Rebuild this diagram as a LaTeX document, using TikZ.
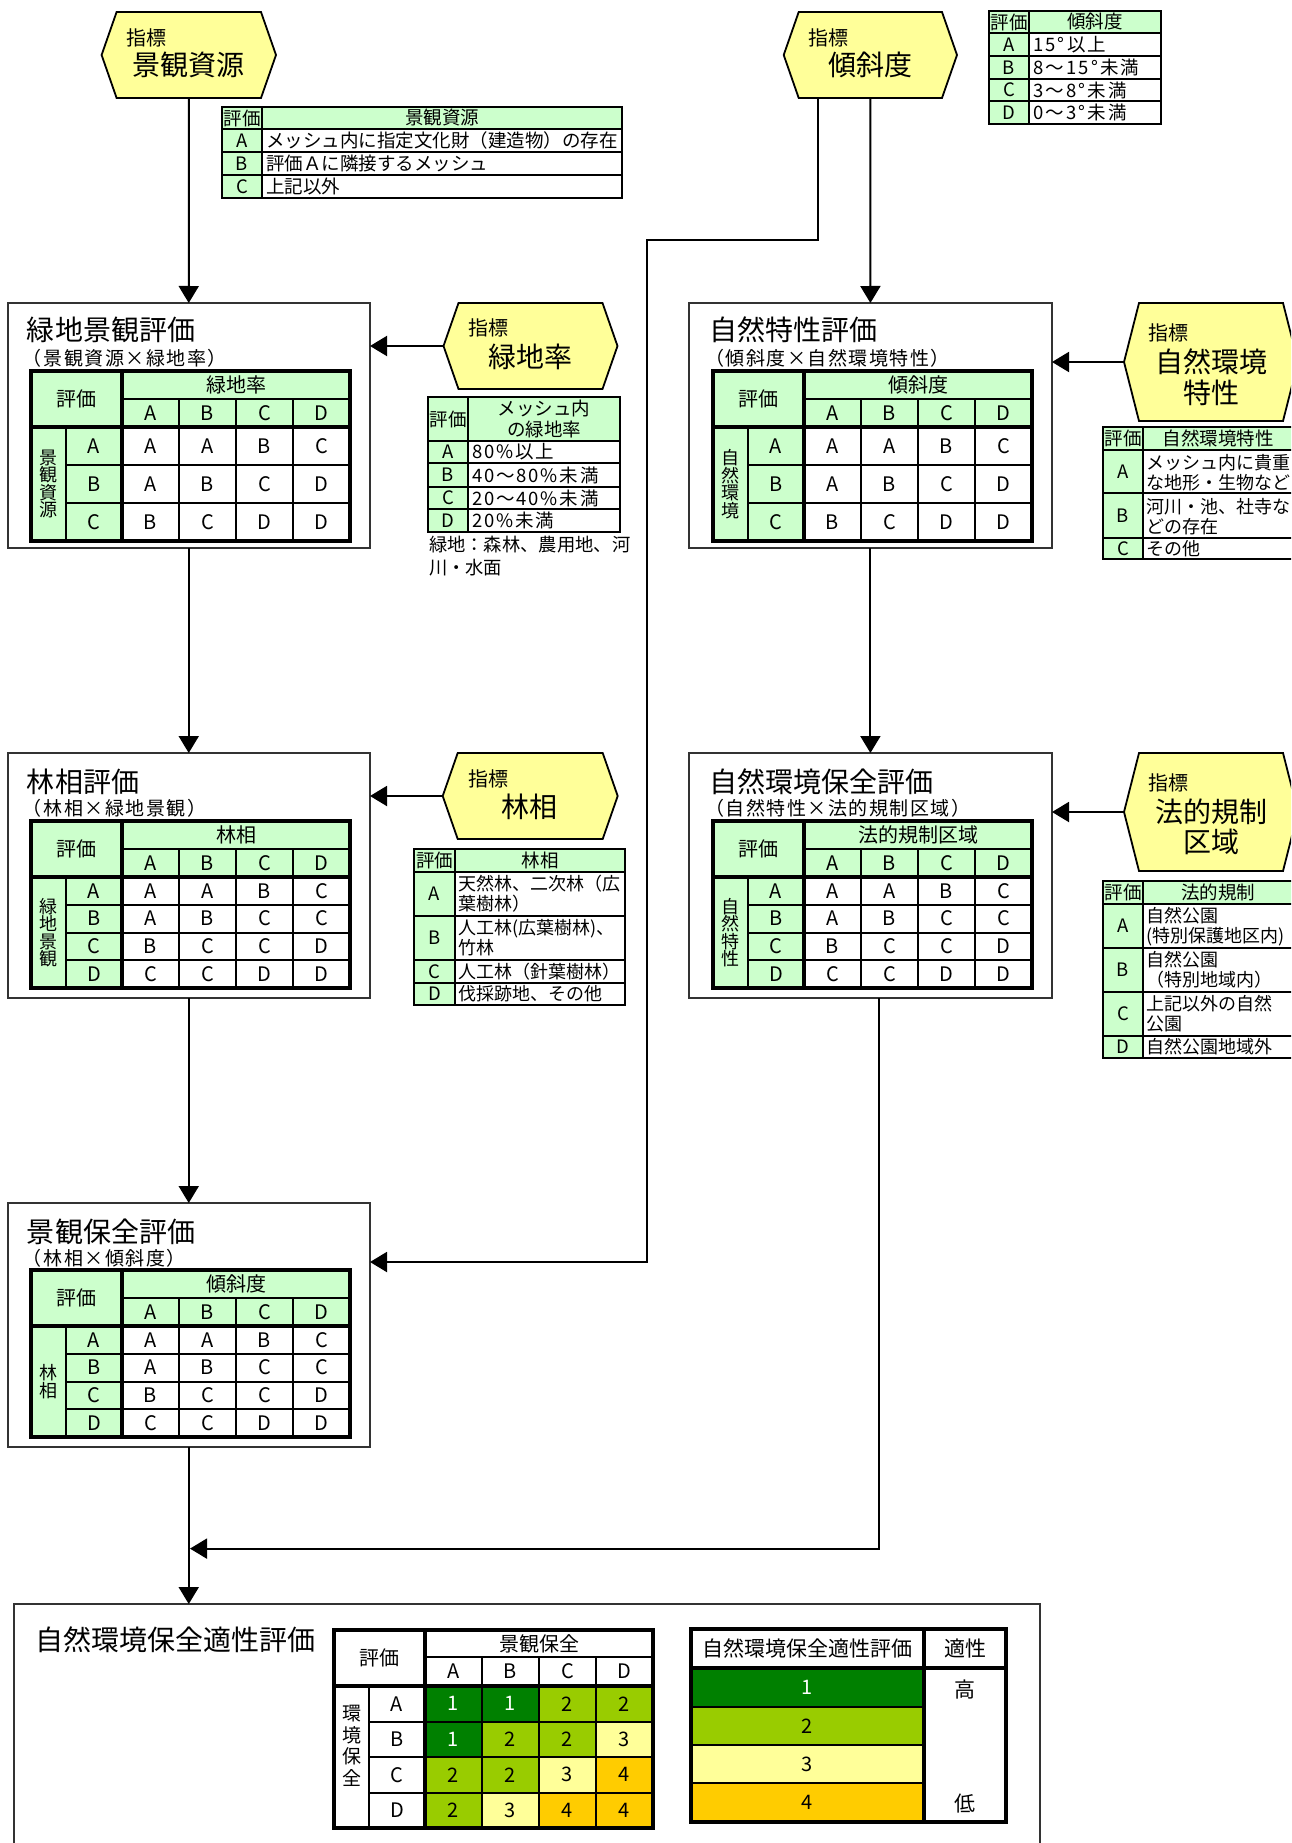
\documentclass[tikz,border=0pt]{standalone}
\usepackage{fontspec}
\setmainfont{Noto Sans CJK JP}
\usetikzlibrary{arrows.meta,calc}
\definecolor{hdrg}{HTML}{CCFFCC}
\definecolor{hexy}{HTML}{FFFF99}
\definecolor{lv1}{HTML}{008000}
\definecolor{lv2}{HTML}{99CC00}
\definecolor{lv3}{HTML}{FFFF99}
\definecolor{lv4}{HTML}{FFCC00}

\newcommand{\EvMat}[9]{%
  \pgfmathsetmacro{\mya}{#3+28}%
  \pgfmathsetmacro{\myd}{#3+56}%
  \pgfmathsetmacro{\mye}{#3+56+#4*#5}%
  \pgfmathtruncatemacro{\mnm}{#5-1}%
  \fill[hdr] (#2,#3) rectangle ({#2+319},\myd);
  \fill[hdr] (#2,\myd) rectangle ({#2+91},\mye);
  \draw[tthin] ({#2+91},\mya) -- ({#2+319},\mya);
  \foreach \k in {148,205,262} {\draw[tthin] ({#2+\k},\mya) -- ({#2+\k},\mye);}
  \draw[tthin] ({#2+35},\myd) -- ({#2+35},\mye);
  \foreach \k in {1,...,\mnm} {\draw[tthin] ({#2+35},{\myd+#4*\k}) -- ({#2+319},{\myd+#4*\k});}
  \draw[tthick] (#2,\myd) -- ({#2+319},\myd);
  \draw[tthick] ({#2+91},#3) -- ({#2+91},\mye);
  \draw[tborder] (#2,#3) rectangle ({#2+319},\mye);
  \node[fcell] (#1-hd) at ({#2+45.5},\mya) {評価};
  \node[fcell] (#1-ch) at ({#2+205},{#3+14}) {#6};
  \foreach \L [count=\i] in {A,B,C,D} {\node[fcell] (#1-c\i) at ({#2+91+28.5+57*(\i-1)},{#3+42}) {\L};}
  \foreach \L [count=\j] in {#9} {\node[fcell] (#1-r\j) at ({#2+63},{\myd+#4*(\j-0.5)}) {\L};}
  \node[fvert] (#1-vl) at ({#2+17.5},{(\myd+\mye)/2}) {#7};
  \foreach \row [count=\j] in {#8} {\foreach \v [count=\i] in \row {\node[fcell] (#1-\j-\i) at ({#2+91+28.5+57*(\i-1)},{\myd+#4*(\j-0.5)}) {\v};}}
}

\newcommand{\HexNode}[5]{%
  \node[hexshape, minimum width=#4pt, minimum height=#5pt] (#1) at (#2,#3) {};
  \draw[hexline] (#1.west) -- ([xshift=15pt]#1.north west) -- ([xshift=-15pt]#1.north east) -- (#1.east) -- ([xshift=-15pt]#1.south east) -- ([xshift=15pt]#1.south west) -- cycle;
}

\begin{document}
\begin{tikzpicture}[x=1pt,y=-1pt,
  every node/.style={inner sep=0pt, outer sep=0pt},
  evbox/.style={rectangle, draw=black!80, line width=2pt, fill=white},
  hexshape/.style={rectangle, draw=none},
  hexline/.style={draw=black, line width=1.8pt, fill=hexy, line join=miter},
  arr/.style={line width=2pt, -{Triangle[length=17pt,width=20pt]}},
  tthin/.style={line width=2pt},
  tthick/.style={line width=3.2pt},
  tborder/.style={line width=3.6pt},
  ithin/.style={line width=1.8pt},
  iborder/.style={line width=2.6pt},
  hdr/.style={fill=hdrg},
  ftitle/.style={font=\fontsize{28}{30}\selectfont, anchor=west},
  fsub/.style={font=\fontsize{19}{21}\selectfont\addfontfeature{LetterSpace=8}, anchor=west},
  fhexa/.style={font=\fontsize{20}{22}\selectfont},
  fhexb/.style={font=\fontsize{28}{31}\selectfont, align=center},
  fcell/.style={font=\fontsize{20}{22}\selectfont},
  fvert/.style={font=\fontsize{18}{17.5}\selectfont, align=center},
  fitab/.style={font=\fontsize{18.5}{20.5}\selectfont, align=left},
  fitabs/.style={font=\fontsize{18}{20}\selectfont, align=left},
  flegend/.style={font=\fontsize{21}{23}\selectfont},
  lvtxt1/.style={text=white},
  lvtxt2/.style={},
  lvtxt3/.style={},
  lvtxt4/.style={}
]
\useasboundingbox (0,0) rectangle (1291,1843);
\clip (0,0) rectangle (1291,1843);
\fill[white] (0,0) rectangle (1291,1843);

% ---------- evaluation boxes
\node[evbox, minimum width=362.5pt, minimum height=245pt] (b1) at (188.75,425.5) {};
\node[evbox, minimum width=363.2pt, minimum height=245pt] (b2) at (870.4,425.5) {};
\node[evbox, minimum width=362.5pt, minimum height=245pt] (b3) at (188.75,875.5) {};
\node[evbox, minimum width=363.2pt, minimum height=245pt] (b4) at (870.4,875.5) {};
\node[evbox, minimum width=362.5pt, minimum height=244pt] (b5) at (188.75,1325) {};
\node[evbox, minimum width=1026.7pt, minimum height=346pt] (b6) at (527,1777) {};

% ---------- indicator hexagons
\HexNode{h1}{188.8}{55}{174.4}{86}
\HexNode{hk}{870.35}{55}{173.3}{86}
\HexNode{h2}{530.5}{346}{174}{86}
\HexNode{h3}{530.2}{796}{175}{86}
\HexNode{hn}{1211}{362}{174}{118}
\HexNode{hl}{1211}{812}{174}{118}

\node[fhexa] (h1a) at (146,38) {指標};
\node[fhexb] (h1b) at (188.5,65) {景観資源};
\node[fhexa] (hka) at (828.5,38) {指標};
\node[fhexb] (hkb) at (870.5,65) {傾斜度};
\node[fhexa] (h2a) at (488,328) {指標};
\node[fhexb] (h2b) at (530,357) {緑地率};
\node[fhexa] (h3a) at (488,779) {指標};
\node[fhexb] (h3b) at (529.5,807) {林相};
\node[fhexa] (hna) at (1168,333) {指標};
\node[fhexb] (hnb) at (1211,377.5) {自然環境\\特性};
\node[fhexa] (hla) at (1168,783) {指標};
\node[fhexb, font=\fontsize{28}{30}\selectfont] (hlb) at (1211,827) {法的規制\\区域};

% ---------- connectors
\coordinate (k1) at (647,240.5);
\coordinate (k2) at (647,1262);
\coordinate (jn) at (190,1548.6);
\draw[arr] (h1.south) -- (b1.north);
\draw[arr] (h2.west) -- (h2.west -| b1.east);
\draw[arr] (b1.south) -- (b3.north);
\draw[arr] (h3.west) -- (h3.west -| b3.east);
\draw[arr] (b3.south) -- (b5.north);
\draw[arr] (b5.south) -- (b5.south |- b6.north);
\draw[arr] (hk.south) -- (b2.north);
\draw[arr] ([xshift=-52.7pt]hk.south) |- (k1) -- (k2) -- (k2 -| b5.east);
\draw[arr] (hn.west) -- (hn.west -| b2.east);
\draw[arr] (b2.south) -- (b4.north);
\draw[arr] (hl.west) -- (hl.west -| b4.east);
\draw[arr] ([xshift=9pt]b4.south) |- (jn);

% ---------- box titles
\node[ftitle] (b1t) at (27,330) {緑地景観評価};
\node[fsub] (b1s) at (23,358) {（景観資源×緑地率）};
\node[ftitle] (b2t) at (709,330) {自然特性評価};
\node[fsub] (b2s) at (705,358) {（傾斜度×自然環境特性）};
\node[ftitle] (b3t) at (27,782) {林相評価};
\node[fsub] (b3s) at (23,808) {（林相×緑地景観）};
\node[ftitle] (b4t) at (709,782) {自然環境保全評価};
\node[fsub] (b4s) at (705,808) {（自然特性×法的規制区域）};
\node[ftitle] (b5t) at (27,1232) {景観保全評価};
\node[fsub] (b5s) at (23,1258) {（林相×傾斜度）};
\node[ftitle] (b6t) at (35,1640) {自然環境保全適性評価};

% ---------- evaluation matrices
\EvMat{m1}{31}{371}{38}{3}{緑地率}{景\\観\\資\\源}{{A,A,B,C},{A,B,C,D},{B,C,D,D}}{A,B,C}
\EvMat{m2}{713}{371}{38}{3}{傾斜度}{自\\然\\環\\境}{{A,A,B,C},{A,B,C,D},{B,C,D,D}}{A,B,C}
\EvMat{m3}{31}{821}{27.75}{4}{林相}{緑\\地\\景\\観}{{A,A,B,C},{A,B,C,C},{B,C,C,D},{C,C,D,D}}{A,B,C,D}
\EvMat{m4}{713}{821}{27.75}{4}{法的規制区域}{自\\然\\特\\性}{{A,A,B,C},{A,B,C,C},{B,C,C,D},{C,C,D,D}}{A,B,C,D}
\EvMat{m5}{31}{1270}{27.75}{4}{傾斜度}{林\\相}{{A,A,B,C},{A,B,C,C},{B,C,C,D},{C,C,D,D}}{A,B,C,D}

% ---------- indicator table: 景観資源
\fill[hdr] (222,107) rectangle (622,129);
\fill[hdr] (222,129) rectangle (262,198);
\draw[ithin] (222,129) -- (622,129) (222,152) -- (622,152) (222,175) -- (622,175) (262,107) -- (262,198);
\draw[iborder] (222,107) rectangle (622,198);
\node[fitab] (t1h) at (242,118) {評価};
\node[fitab] (t1k) at (442,118) {景観資源};
\node[fitab] (t1a) at (242,140.5) {A};
\node[fitab] (t1b) at (242,163.5) {B};
\node[fitab] (t1c) at (242,186.5) {C};
\node[fitab, anchor=west] (t1at) at (266,140.5) {メッシュ内に指定文化財（建造物）の存在};
\node[fitab, anchor=west] (t1bt) at (266,163.5) {評価Ａに隣接するメッシュ};
\node[fitab, anchor=west] (t1ct) at (266,186.5) {上記以外};

% ---------- indicator table: 傾斜度
\fill[hdr] (989,11) rectangle (1161,33);
\fill[hdr] (989,33) rectangle (1029,124);
\draw[ithin] (989,33) -- (1161,33) (989,56) -- (1161,56) (989,79) -- (1161,79) (989,101) -- (1161,101) (1029,11) -- (1029,124);
\draw[iborder] (989,11) rectangle (1161,124);
\node[fitab] (t2h) at (1009,22) {評価};
\node[fitab] (t2k) at (1095,22) {傾斜度};
\node[fitab] (t2a) at (1009,44.5) {A};
\node[fitab] (t2b) at (1009,67.5) {B};
\node[fitab] (t2c) at (1009,90) {C};
\node[fitab] (t2d) at (1009,112.5) {D};
\node[fitab, anchor=west] (t2at) at (1033,44.5) {\addfontfeature{LetterSpace=12}15°以上};
\node[fitab, anchor=west] (t2bt) at (1033,67.5) {\addfontfeature{LetterSpace=12}8～15°未満};
\node[fitab, anchor=west] (t2ct) at (1033,90) {\addfontfeature{LetterSpace=12}3～8°未満};
\node[fitab, anchor=west] (t2dt) at (1033,112.5) {\addfontfeature{LetterSpace=12}0～3°未満};

% ---------- indicator table: 緑地率
\fill[hdr] (428,397) rectangle (620,441);
\fill[hdr] (428,441) rectangle (468,532);
\draw[ithin] (428,441) -- (620,441) (428,463) -- (620,463) (428,487) -- (620,487) (428,509) -- (620,509) (468,397) -- (468,532);
\draw[iborder] (428,397) rectangle (620,532);
\node[fitab] (t3h) at (448,419) {評価};
\node[fitab, align=center] (t3k) at (544,419) {メッシュ内\\の緑地率};
\node[fitab] (t3a) at (448,452) {A};
\node[fitab] (t3b) at (448,475) {B};
\node[fitab] (t3c) at (448,498) {C};
\node[fitab] (t3d) at (448,520.5) {D};
\node[fitab, anchor=west] (t3at) at (472,452) {\addfontfeature{LetterSpace=10}80\%以上};
\node[fitab, anchor=west] (t3bt) at (472,475) {\addfontfeature{LetterSpace=10}40～80\%未満};
\node[fitab, anchor=west] (t3ct) at (472,498) {\addfontfeature{LetterSpace=10}20～40\%未満};
\node[fitab, anchor=west] (t3dt) at (472,520.5) {\addfontfeature{LetterSpace=10}20\%未満};
\node[fitab, font=\fontsize{18.3}{23}\selectfont, anchor=west] (t3n) at (429,556.5) {緑地：森林、農用地、河\\川・水面};

% ---------- indicator table: 自然環境特性
\fill[hdr] (1103,427) rectangle (1300,450);
\fill[hdr] (1103,450) rectangle (1142.6,559);
\draw[ithin] (1103,450) -- (1300,450) (1103,493) -- (1300,493) (1103,538) -- (1300,538) (1142.6,427) -- (1142.6,559);
\draw[iborder] (1103,427) rectangle (1300,559);
\node[fitab] (t4h) at (1123,438.5) {評価};
\node[fitab] (t4k) at (1218,438.5) {自然環境特性};
\node[fitab] (t4a) at (1123,471.5) {A};
\node[fitab] (t4b) at (1123,515.5) {B};
\node[fitab] (t4c) at (1123,548.5) {C};
\node[fitabs, anchor=west] (t4at) at (1146,473) {メッシュ内に貴重\\な地形・生物など};
\node[fitabs, anchor=west] (t4bt) at (1146,517) {河川・池、社寺な\\どの存在};
\node[fitabs, anchor=west] (t4ct) at (1146,548.5) {その他};

% ---------- indicator table: 林相
\fill[hdr] (414,849) rectangle (625,872);
\fill[hdr] (414,872) rectangle (455,1005);
\draw[ithin] (414,872) -- (625,872) (414,916) -- (625,916) (414,960) -- (625,960) (414,983) -- (625,983) (455,849) -- (455,1005);
\draw[iborder] (414,849) rectangle (625,1005);
\node[fitab] (t5h) at (434.5,860.5) {評価};
\node[fitab] (t5k) at (540,860.5) {林相};
\node[fitab] (t5a) at (434.5,894) {A};
\node[fitab] (t5b) at (434.5,938) {B};
\node[fitab] (t5c) at (434.5,971.5) {C};
\node[fitab] (t5d) at (434.5,994) {D};
\node[fitabs, anchor=west] (t5at) at (458,894) {天然林、二次林（広\\葉樹林）};
\node[fitabs, anchor=west] (t5bt) at (458,938) {人工林(広葉樹林)、\\竹林};
\node[fitabs, anchor=west] (t5ct) at (458,971.5) {人工林（針葉樹林）};
\node[fitabs, anchor=west] (t5dt) at (458,994) {伐採跡地、その他};

% ---------- indicator table: 法的規制
\fill[hdr] (1103,881) rectangle (1300,904);
\fill[hdr] (1103,904) rectangle (1142.6,1058);
\draw[ithin] (1103,904) -- (1300,904) (1103,948) -- (1300,948) (1103,992) -- (1300,992) (1103,1036) -- (1300,1036) (1142.6,881) -- (1142.6,1058);
\draw[iborder] (1103,881) rectangle (1300,1058);
\node[fitab] (t6h) at (1123,892.5) {評価};
\node[fitab] (t6k) at (1218,892.5) {法的規制};
\node[fitab] (t6a) at (1123,926) {A};
\node[fitab] (t6b) at (1123,970) {B};
\node[fitab] (t6c) at (1123,1014) {C};
\node[fitab] (t6d) at (1123,1047) {D};
\node[fitabs, anchor=west] (t6at) at (1146,926.5) {自然公園\\(特別保護地区内)};
\node[fitabs, anchor=west] (t6bt) at (1146,970) {自然公園\\（特別地域内）};
\node[fitabs, anchor=west] (t6ct) at (1146,1014) {上記以外の自然\\公園};
\node[fitabs, anchor=west] (t6dt) at (1146,1047) {自然公園地域外};

% ---------- suitability matrix
\foreach \row [count=\j] in {{1,1,2,2},{1,2,2,3},{2,2,3,4},{2,3,4,4}} {
  \foreach \v [count=\i] in \row {
    \fill[lv\v] ({425+57*(\i-1)},{1686+35.5*(\j-1)}) rectangle ++(57,35.5);
    \node[fcell, lvtxt\v] (s-\j-\i) at ({425+28.5+57*(\i-1)},{1686+35.5*(\j-0.5)}) {\v};
  }
}
\draw[tthin] (425,1657) -- (653,1657);
\foreach \k in {482,539,596} {\draw[tthin] (\k,1657) -- (\k,1828);}
\draw[tthin] (369,1686) -- (369,1828);
\foreach \k in {1721.5,1757,1792.5} {\draw[tthin] (369,\k) -- (653,\k);}
\draw[tthick] (334,1686) -- (653,1686);
\draw[tthick] (425,1630) -- (425,1828);
\draw[tborder] (334,1630) rectangle (653,1828);
\node[fcell] (s-hd) at (379.5,1658) {評価};
\node[fcell] (s-ch) at (539,1643.5) {景観保全};
\foreach \L [count=\i] in {A,B,C,D} {\node[fcell] (s-c\i) at ({425+28.5+57*(\i-1)},1671.5) {\L};}
\foreach \L [count=\j] in {A,B,C,D} {\node[fcell] (s-r\j) at (397,{1686+35.5*(\j-0.5)}) {\L};}
\node[fvert, font=\fontsize{19}{21.5}\selectfont] (s-vl) at (351.5,1746) {環\\境\\保\\全};

% ---------- legend table
\fill[lv1] (691,1668) rectangle (924,1707);
\fill[lv2] (691,1707) rectangle (924,1745);
\fill[lv3] (691,1745) rectangle (924,1783);
\fill[lv4] (691,1783) rectangle (924,1822);
\draw[tthin] (691,1707) -- (924,1707) (691,1745) -- (924,1745) (691,1783) -- (924,1783);
\draw[tthick] (691,1668) -- (1006,1668);
\draw[tthick] (924,1629) -- (924,1822);
\draw[tborder] (691,1629) rectangle (1006,1822);
\node[flegend] (l-h1) at (807.5,1648.5) {自然環境保全適性評価};
\node[flegend] (l-h2) at (965,1648.5) {適性};
\node[fcell, text=white] (l-1) at (807.5,1687.5) {1};
\node[fcell] (l-2) at (807.5,1726) {2};
\node[fcell] (l-3) at (807.5,1764) {3};
\node[fcell] (l-4) at (807.5,1802.5) {4};
\node[flegend] (l-hi) at (965,1689) {高};
\node[flegend] (l-lo) at (965,1804) {低};
\end{tikzpicture}
\end{document}
